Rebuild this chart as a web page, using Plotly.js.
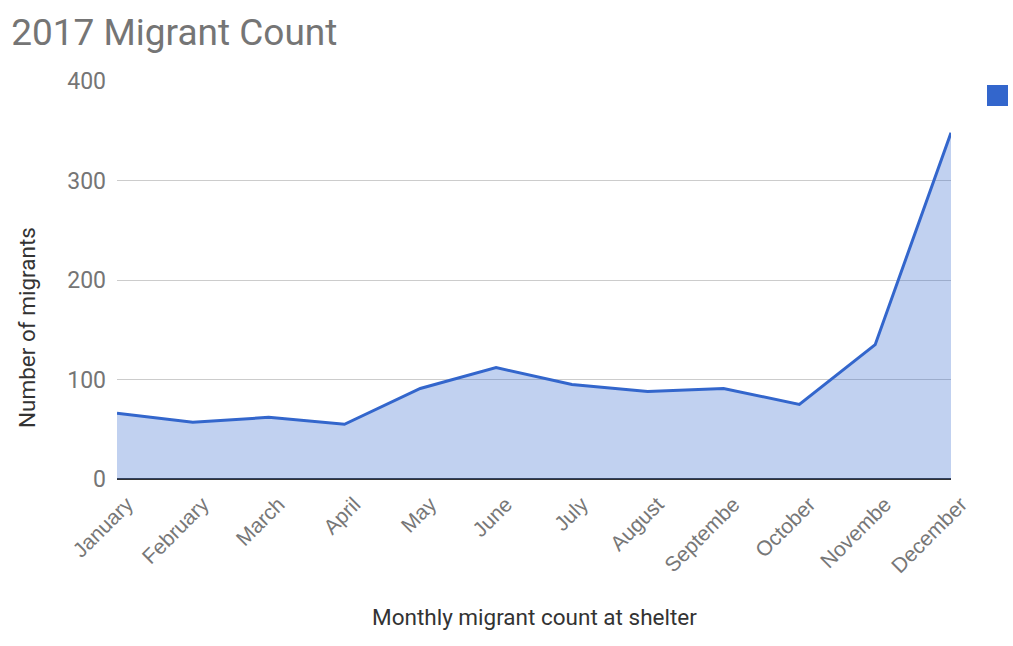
<!DOCTYPE html>
<html>
<head>
<meta charset="utf-8">
<script src="https://cdn.plot.ly/plotly-3.0.1.min.js"></script>
<style>html,body{margin:0;padding:0;background:#fff;}#chart{width:1013px;height:646px;}</style>
</head>
<body>
<div id="chart"></div>
<script>
const months = ["January","February","March","April","May","June","July","August","Septembe","October","Novembe","December"];
const migrants = [66, 57, 62, 55, 91, 112, 95, 88, 91, 75, 135, 348];
const yTicks = [0, 100, 200, 300, 400];

const trace = {
  x: months,
  y: migrants,
  type: 'scatter',
  mode: 'lines',
  fill: 'tozeroy',
  fillcolor: 'rgba(51,102,204,0.30)',
  line: {color: '#3366cc', width: 3},
  showlegend: false,
  hoverinfo: 'x+y'
};

const layout = {
  width: 1013, height: 646,
  margin: {l: 117, r: 62, t: 81, b: 167},
  paper_bgcolor: '#ffffff', plot_bgcolor: '#ffffff',
  font: {family: 'Roboto, Arial, sans-serif', color: '#444'},
  title: {text: '2017 Migrant Count', x: 0.011, xanchor: 'left', y: 0.95, yanchor: 'middle',
          font: {size: 37, color: '#757575', family: 'Roboto, Arial, sans-serif'}},
  xaxis: {
    type: 'category', range: [0, 11],
    tickangle: -45, showgrid: false, zeroline: false, showline: false,
    ticks: '', tickfont: {size: 21, color: '#777', family: '"Liberation Sans", Arial, sans-serif'},
    ticklabelstandoff: 8, ticklabelshift: 10,
    automargin: false
  },
  yaxis: {
    range: [0, 400], tickvals: yTicks, ticktext: yTicks.map(String),
    showgrid: true, gridcolor: '#cccccc', gridwidth: 1,
    zeroline: true, zerolinecolor: '#333333', zerolinewidth: 1.5,
    showline: false, ticks: '', tickfont: {size: 23, color: '#757575'},
    ticklabelstandoff: 10,
    automargin: false
  },
  annotations: [
    {text: 'Monthly migrant count at shelter', xref: 'paper', yref: 'paper',
     x: 0.5, y: (479-617)/398, xanchor: 'center', yanchor: 'middle', showarrow: false,
     font: {size: 22.5, color: '#333'}},
    {text: 'Number of migrants', xref: 'paper', yref: 'paper', textangle: -90,
     x: (27-117)/834, y: (479-328)/398, xanchor: 'center', yanchor: 'middle', showarrow: false,
     font: {size: 22.5, color: '#333'}}
  ],
  shapes: [{type: 'rect', xref: 'paper', yref: 'paper',
            x0: (987-117)/834, x1: (1008-117)/834, y0: (479-106)/398, y1: (479-85)/398,
            fillcolor: '#3366cc', line: {width: 0}}]
};

Plotly.newPlot('chart', [trace], layout, {displayModeBar: false, staticPlot: true});
</script>
</body>
</html>
